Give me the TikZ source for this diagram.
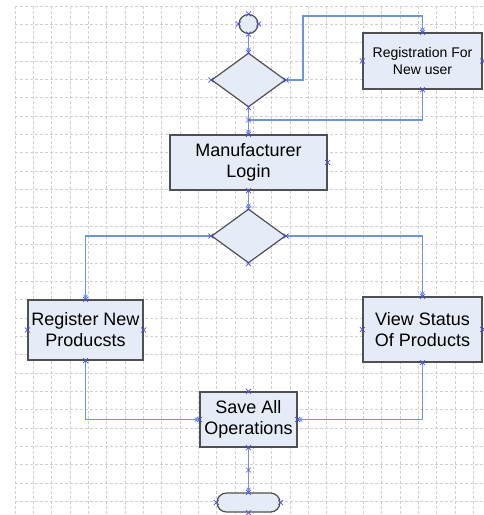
\documentclass[tikz,border=0pt]{standalone}
\usepackage{fontspec}
\setmainfont{Liberation Sans}
\usetikzlibrary{shapes.geometric,arrows.meta}

\definecolor{boxfill}{HTML}{E6ECF7}
\definecolor{boxline}{HTML}{505050}
\definecolor{flowblue}{HTML}{6B97D6}
\definecolor{crossblue}{HTML}{4F4FE8}
\definecolor{gridgray}{HTML}{D0D0D0}

\tikzstyle{flowbox}=[draw=boxline,fill=boxfill,line width=1.2pt,align=center,inner sep=0pt,font=\fontsize{18}{21}\selectfont]
\tikzstyle{decision}=[flowbox,diamond,minimum width=74pt,minimum height=54pt]
\tikzstyle{flowline}=[draw=flowblue,line width=1.1pt,-{Stealth[length=5pt,width=4.5pt]}]
\tikzstyle{conn}=[draw=crossblue,line width=0.6pt]
\tikzstyle{gridline}=[gridgray,line width=0.8pt,dash pattern=on 3pt off 2pt]

\begin{document}
\begin{tikzpicture}[x=1pt,y=-1pt]

\useasboundingbox (0,0) rectangle (484,515);

% GRID

\foreach \i in {0,...,25}
	\draw[gridline] (15+18.33*\i,6) -- (15+18.33*\i,515);
\foreach \j in {0,...,27}
	\draw[gridline] (15,6+18.35*\j) -- (484,6+18.35*\j);

% LOGIN PART

\node[flowbox,circle,minimum size=19pt] (start) at (248.5,24) {};
\node[decision] (d1) at (248.5,80) {};
\node[flowbox,minimum width=119pt,minimum height=56pt,font=\fontsize{14}{17}\selectfont] (reg) at (422.5,61) {Registration For\\New user};
\node[flowbox,minimum width=157pt,minimum height=55pt] (login) at (248.5,162.5) {Manufacturer\\Login};
\coordinate (join) at (248.5,120);

\draw[flowline] (start.south) -- (d1.north);
\draw[flowline] (d1.east) -| (303,16) -| (reg.north);
\draw[flowline,-] (reg.south) |- (join);
\draw[flowline] (d1.south) -- (login.north);

% PRODUCT PART

\node[decision] (d2) at (248.5,236) {};
\node[flowbox,minimum width=115pt,minimum height=60pt] (newprod) at (85.5,330) {Register New\\Producsts};
\node[flowbox,minimum width=119pt,minimum height=65pt] (status) at (422.5,329.5) {View Status\\Of Products};
\node[flowbox,minimum width=97pt,minimum height=55pt] (save) at (248.5,419.5) {Save All\\Operations};
\node[flowbox,minimum width=63pt,minimum height=19pt,rounded corners=9.5pt] (stop) at (248.5,502.5) {};

\draw[flowline] (login.south) -- (d2.north);
\draw[flowline] (d2.west) -| (newprod.north);
\draw[flowline] (d2.east) -| (status.north);
\draw[flowline] (newprod.south) |- (save.west);
\draw[flowline] (status.south) |- (save.east);
\draw[flowline] (save.south) -- (stop.north);

% CONNECTION POINTS

\foreach \p in {start.north,start.south,start.east,start.west,
	d1.north,d1.south,d1.east,d1.west,reg.north,reg.south,reg.east,reg.west,join,
	login.north,login.south,login.east,d2.north,d2.south,d2.east,d2.west,
	newprod.north,newprod.south,newprod.east,newprod.west,
	status.north,status.south,status.east,status.west,
	save.north,save.south,save.east,save.west,stop.north,stop.south,stop.east,stop.west}
	\draw[conn] (\p) ++(-2.5,-2.5) -- ++(5,5) ++(-5,0) -- ++(5,-5);
\draw[conn] (248.5,470) ++(-2.5,-2.5) -- ++(5,5) ++(-5,0) -- ++(5,-5);

\end{tikzpicture}
\end{document}
